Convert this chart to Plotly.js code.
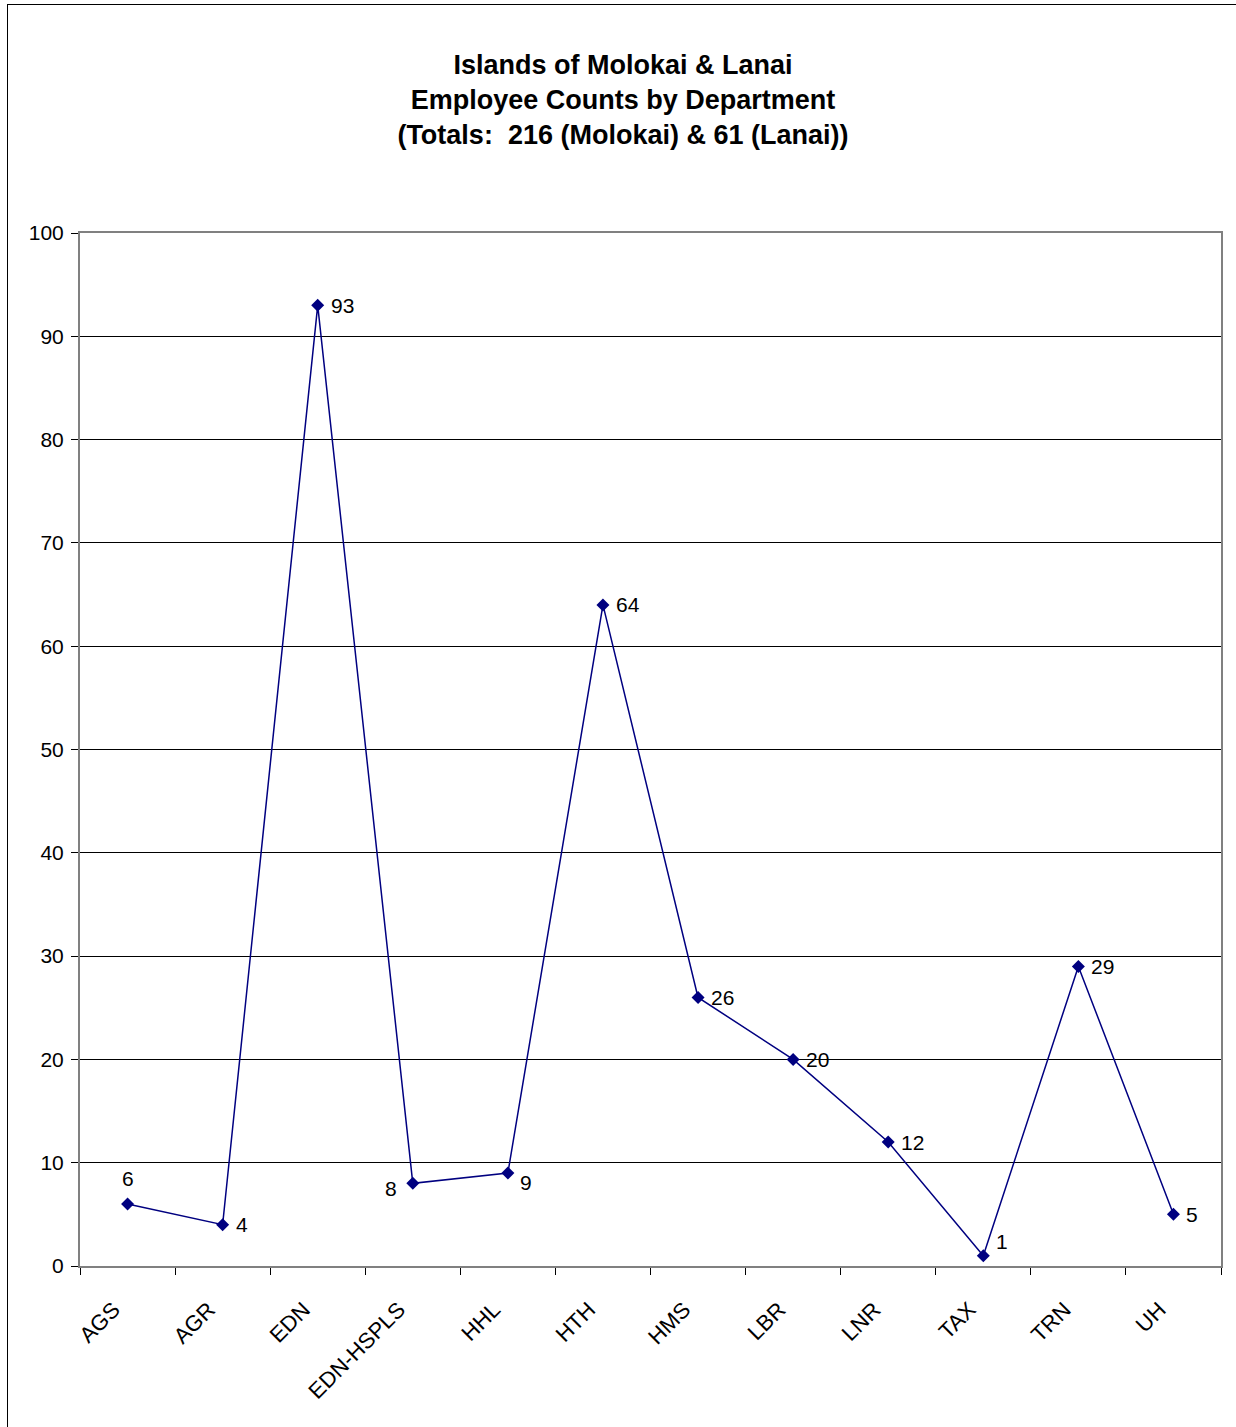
<!DOCTYPE html>
<html>
<head>
<meta charset="utf-8">
<script src="https://cdn.plot.ly/plotly-3.0.1.min.js"></script>
<style>
  html, body { margin: 0; padding: 0; background: #fff; overflow: hidden; }
  #frame { position: absolute; left: 7px; top: 4px; width: 1240px; height: 1440px; border: 1px solid #000; box-sizing: border-box; pointer-events: none; z-index: 5; }
  #chart { position: absolute; left: 0; top: 0; width: 1236px; height: 1427px; }
</style>
</head>
<body>
<div id="chart"></div>
<div id="frame"></div>
<script>
const departments = ["AGS", "AGR", "EDN", "EDN-HSPLS", "HHL", "HTH", "HMS", "LBR", "LNR", "TAX", "TRN", "UH"];
const employeeCounts = [6, 4, 93, 8, 9, 64, 26, 20, 12, 1, 29, 5];
const titleLines = ["Islands of Molokai & Lanai", "Employee Counts by Department", "(Totals:  216 (Molokai) & 61 (Lanai))"];

// label placement (style only): anchor side and pixel shifts relative to each point
const labelPlacement = {
  "AGS":       { anchor: "center", dx: 0,   dy: 26 },
  "EDN-HSPLS": { anchor: "right",  dx: -14, dy: -5 },
  "HHL":       { anchor: "left",   dx: 10,  dy: -9 },
  "TAX":       { anchor: "left",   dx: 11,  dy: 14 }
};
const defaultPlacement = { anchor: "left", dx: 11, dy: 0 };

const FONT = "Liberation Sans, Arial, sans-serif";

const trace = {
  x: departments,
  y: employeeCounts,
  type: "scatter",
  mode: "lines+markers",
  line: { color: "#000080", width: 1.5 },
  marker: { symbol: "diamond", size: 10, color: "#000080" },
  cliponaxis: false,
  hoverinfo: "x+y"
};

const annotations = departments.map((d, i) => {
  const p = labelPlacement[d] || defaultPlacement;
  return {
    x: d, y: employeeCounts[i], xref: "x", yref: "y",
    text: String(employeeCounts[i]),
    showarrow: false,
    xanchor: p.anchor, yanchor: "middle",
    xshift: p.dx, yshift: p.dy,
    font: { family: FONT, size: 21, color: "#000" }
  };
});

const layout = {
  width: 1236,
  height: 1427,
  paper_bgcolor: "#fff",
  plot_bgcolor: "#fff",
  showlegend: false,
  margin: { l: 80, r: 15, t: 233, b: 161 },
  font: { family: FONT, size: 21, color: "#000" },
  title: {
    text: "<b>" + titleLines.join("<br>") + "</b>",
    font: { family: FONT, size: 27, color: "#000" },
    xref: "container", x: 0.504, xanchor: "center",
    yref: "container", y: 0.948, yanchor: "top"
  },
  annotations: annotations,
  xaxis: {
    type: "category",
    range: [-0.5, 11.5],
    tickangle: -45,
    ticks: "outside",
    tickson: "boundaries",
    ticklen: 7,
    tickcolor: "#000",
    tickfont: { family: FONT, size: 22, color: "#000" },
    ticklabelstandoff: 20,
    ticklabelshift: -14,
    showgrid: false,
    showline: true,
    linecolor: "#808080",
    linewidth: 2,
    mirror: true,
    zeroline: false
  },
  yaxis: {
    range: [0, 100],
    dtick: 10,
    ticks: "outside",
    ticklen: 7,
    tickcolor: "#000",
    tickfont: { family: FONT, size: 21, color: "#000" },
    ticklabelstandoff: 3,
    showgrid: true,
    gridcolor: "#000",
    gridwidth: 1,
    showline: true,
    linecolor: "#808080",
    linewidth: 2,
    mirror: true,
    zeroline: false
  }
};

Plotly.newPlot("chart", [trace], layout, { displayModeBar: false, staticPlot: true });
</script>
</body>
</html>
